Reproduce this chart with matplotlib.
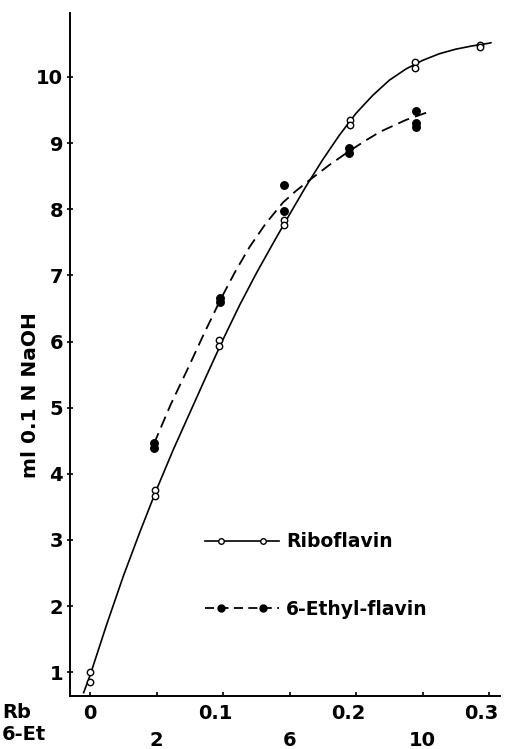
import numpy as np
import matplotlib
matplotlib.use("Agg")
import matplotlib.pyplot as plt
from matplotlib.legend_handler import HandlerLine2D
from matplotlib.transforms import ScaledTranslation

plt.rcParams['font.family'] = ['DejaVu Sans']
plt.rcParams['font.weight'] = 'bold'

# Titration readings (ml 0.1 N NaOH) against flavin amount
rb_x = [0.0, 0.0, 0.049, 0.049, 0.097, 0.097, 0.146, 0.146, 0.1955, 0.1955, 0.244, 0.244, 0.293, 0.293]
rb_y = [1.00, 0.86, 3.76, 3.67, 6.02, 5.93, 7.84, 7.76, 9.35, 9.27, 10.22, 10.13, 10.48, 10.45]

et_x = [0.048, 0.048, 0.098, 0.098, 0.146, 0.146, 0.195, 0.195, 0.245, 0.245, 0.245]
et_y = [4.47, 4.39, 6.66, 6.60, 8.36, 7.98, 8.92, 8.85, 9.48, 9.31, 9.25]

# hand-drawn trend curves, read along their length
rb_curve_x = [-0.005, 0.0, 0.0125, 0.025, 0.0375, 0.05, 0.0625, 0.075, 0.0875, 0.1, 0.1125,
              0.125, 0.1375, 0.15, 0.1625, 0.175, 0.1875, 0.2, 0.2125, 0.225, 0.2375, 0.25,
              0.2625, 0.275, 0.2875, 0.3, 0.302]
rb_curve_y = [0.68, 0.95, 1.72, 2.45, 3.12, 3.76, 4.36, 4.92, 5.48, 6.03, 6.55,
              7.03, 7.48, 7.92, 8.35, 8.75, 9.12, 9.45, 9.72, 9.95, 10.12, 10.25,
              10.35, 10.42, 10.47, 10.51, 10.52]

et_curve_x = [0.048, 0.0605, 0.074, 0.086, 0.098, 0.109, 0.120, 0.132, 0.145, 0.155,
              0.165, 0.180, 0.195, 0.2065, 0.218, 0.2375, 0.257]
et_curve_y = [4.45, 5.04, 5.61, 6.13, 6.63, 7.05, 7.43, 7.78, 8.10, 8.28,
              8.44, 8.67, 8.88, 9.03, 9.17, 9.35, 9.49]

major_ticks = [0.0, 0.1, 0.2, 0.3]
major_labels = ['0', '0.1', '0.2', '0.3']
minor_ticks = [0.05, 0.15, 0.25]
minor_labels = ['2', '6', '10']
y_ticks = [1, 2, 3, 4, 5, 6, 7, 8, 9, 10]


class SpanHandler(HandlerLine2D):
    # line runs the full handle width, markers sit inside it
    def create_artists(self, legend, orig_handle, xdescent, ydescent, width, height, fontsize, trans):
        line = super().create_artists(legend, orig_handle, xdescent, ydescent,
                                      width, height, fontsize, trans)[0]
        xs = list(line.get_xdata())
        y0 = line.get_ydata()[0]
        line.set_data([-xdescent] + xs + [-xdescent + width], [y0] * (len(xs) + 2))
        line.set_markevery(list(range(1, len(xs) + 1)))
        return [line]


fig = plt.figure(figsize=(5.05, 7.49), dpi=100)
ax = fig.add_axes([70 / 505, 1 - 696 / 749, 430 / 505, 683 / 749])

ax.plot(rb_curve_x, rb_curve_y, color='black', linewidth=1.2, solid_capstyle='butt')
ax.plot(et_curve_x, et_curve_y, color='black', linewidth=1.3, linestyle=(0, (6.5, 3.5)))

ax.plot(rb_x, rb_y, linestyle='none', marker='o', markersize=4.6,
        markerfacecolor='white', markeredgecolor='black', markeredgewidth=1.0)
ax.plot(et_x, et_y, linestyle='none', marker='o', markersize=5.4,
        markerfacecolor='black', markeredgecolor='black')

# legend entries
h_rb, = ax.plot([], [], color='black', linewidth=1.2, marker='o', markersize=4,
                markerfacecolor='white', markeredgecolor='black', markeredgewidth=1.0)
h_et, = ax.plot([], [], color='black', linewidth=1.3, linestyle=(0, (5, 3)),
                marker='o', markersize=5, markerfacecolor='black')
ax.legend([h_rb, h_et], ['Riboflavin', '6-Ethyl-flavin'], loc='upper left',
          bbox_to_anchor=(0.315, 0.24), frameon=False, borderpad=0, borderaxespad=0,
          numpoints=2, handlelength=3.9, handletextpad=0.4, labelspacing=2.6,
          prop={'size': 13.5, 'weight': 'bold'},
          handler_map={h_rb: SpanHandler(marker_pad=0.85), h_et: SpanHandler(marker_pad=0.85)})

ax.set_xlim(-0.01504, 0.30827)
ax.set_ylim(0.641, 10.967)

for side in ['top', 'right']:
    ax.spines[side].set_visible(False)
for side in ['left', 'bottom']:
    ax.spines[side].set_linewidth(1.4)

ax.set_yticks(y_ticks)
ax.set_yticklabels([str(v) for v in y_ticks])
ax.tick_params(axis='y', direction='inout', length=4, width=1.2, pad=3, labelsize=14)

ax.set_xticks(major_ticks)
ax.set_xticklabels(major_labels)
ax.set_xticks(minor_ticks, minor=True)
ax.set_xticklabels(minor_labels, minor=True)
ax.tick_params(axis='x', which='both', direction='in', length=3, width=1.2, labelsize=14)
ax.tick_params(axis='x', which='major', pad=6)
ax.tick_params(axis='x', which='minor', pad=25)

# decimal labels sit a little left of their ticks
shift = ScaledTranslation(-0.08, 0, fig.dpi_scale_trans)
for lab in ax.get_xticklabels()[1:]:
    lab.set_transform(lab.get_transform() + shift)

fig.text(0.004, 1 - 712.7 / 749, 'Rb', ha='left', va='center', fontsize=14)
fig.text(0.004, 1 - 735 / 749, '6-Et', ha='left', va='center', fontsize=14)

ax.set_ylabel('ml 0.1 N NaOH', fontsize=14.5, fontweight='bold')
ax.yaxis.set_label_coords(-0.07, 0.44)

fig.savefig('out.png', dpi=100)
